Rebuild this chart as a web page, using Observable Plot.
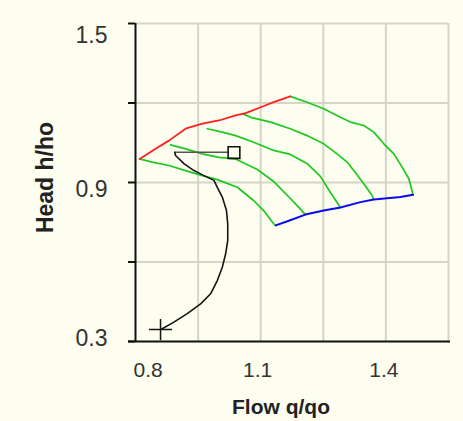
<!DOCTYPE html>
<html><head><meta charset="utf-8">
<script src="https://cdn.jsdelivr.net/npm/d3@7"></script>
<script src="https://cdn.jsdelivr.net/npm/@observablehq/plot@0.6"></script>
<style>html,body{margin:0;padding:0;background:#fdfdf0;}</style>
</head><body><div id="chart"></div>
<script>
// ---- data ----
const xGrid = [0.95, 1.1, 1.25, 1.4, 1.55];
const yGrid = [0.6, 0.9, 1.2, 1.5];
const yTicks = [0.3, 0.6, 0.9, 1.2, 1.5];
const xLabels = [0.8, 1.1, 1.4];
const yLabels = [0.3, 0.9, 1.5];
const xTitle = "Flow q/qo";
const yTitle = "Head h/ho";

const upperEnvelope = [[0.810,0.989],[0.848,1.027],[0.880,1.058],[0.920,1.103],[0.960,1.122],[1.000,1.134],[1.040,1.153],[1.064,1.162],[1.100,1.184],[1.131,1.203],[1.171,1.225]];
const lowerEnvelope = [[1.136,0.738],[1.164,0.754],[1.207,0.779],[1.251,0.794],[1.291,0.806],[1.339,0.826],[1.371,0.836],[1.435,0.845],[1.465,0.854]];
const speed1 = [[0.810,0.989],[0.840,0.977],[0.880,0.964],[0.920,0.945],[0.960,0.926],[0.996,0.911],[1.044,0.882],[1.083,0.832],[1.107,0.794],[1.131,0.744],[1.136,0.738]];
const speed2 = [[0.884,1.042],[0.920,1.027],[0.960,1.008],[1.000,0.995],[1.040,0.989],[1.092,0.949],[1.131,0.904],[1.164,0.851],[1.191,0.807],[1.207,0.779]];
const speed3 = [[0.972,1.103],[1.008,1.090],[1.040,1.077],[1.083,1.052],[1.131,1.021],[1.171,1.006],[1.211,0.972],[1.243,0.923],[1.267,0.862],[1.291,0.806]];
const speed4 = [[1.059,1.158],[1.076,1.146],[1.124,1.128],[1.171,1.103],[1.211,1.077],[1.251,1.046],[1.283,1.008],[1.307,0.977],[1.323,0.945],[1.347,0.895],[1.367,0.851],[1.371,0.836]];
const speed5 = [[1.171,1.225],[1.211,1.203],[1.251,1.178],[1.291,1.146],[1.315,1.128],[1.347,1.115],[1.371,1.090],[1.395,1.046],[1.419,1.008],[1.439,0.958],[1.455,0.914],[1.465,0.854]];
const trajectory = [[0.860,0.345],[0.864,0.348],[0.892,0.373],[0.924,0.405],[0.956,0.442],[0.980,0.480],[0.996,0.530],[1.008,0.580],[1.016,0.631],[1.021,0.681],[1.021,0.744],[1.018,0.794],[1.008,0.845],[0.996,0.882],[0.988,0.908],[0.964,0.926],[0.940,0.945],[0.916,0.971],[0.896,1.002],[0.894,1.014]];
const connector = [[0.894,1.014],[1.020,1.014]];
const startPoint = [[0.860,0.345]];
const endPoint = [[1.036,1.013]];

// ---- drawing ----
const speeds = [speed1, speed2, speed3, speed4, speed5].flatMap((s, k) => s.map(p => ({q: p[0], h: p[1], k})));
const thinPlus = {draw(ctx, size) { const r = Math.sqrt(size / Math.PI); ctx.moveTo(-r, 0); ctx.lineTo(r, 0); ctx.moveTo(0, -r * 0.92); ctx.lineTo(0, r * 0.92); }};
const yLabelDy = {"0.3": -3, "0.9": 7, "1.5": 12};
const xLabelDx = {"0.8": -2, "1.1": -3, "1.4": -2};
const font = "Liberation Sans, Arial, sans-serif";

const chart = Plot.plot({
  width: 463, height: 421,
  marginLeft: 135, marginRight: 15, marginTop: 23, marginBottom: 80,
  x: {domain: [0.8, 1.55], axis: null},
  y: {domain: [0.3, 1.5], axis: null},
  style: {background: "#fdfdf0", fontFamily: font},
  marks: [
    Plot.ruleX(xGrid, {stroke: "#d6d6c6", strokeWidth: 2}),
    Plot.ruleY(yGrid, {stroke: "#d6d6c6", strokeWidth: 2}),
    Plot.line(speeds, {x: "q", y: "h", z: "k", stroke: "#1ec81e", strokeWidth: 1.7}),
    Plot.line(upperEnvelope, {x: d => d[0], y: d => d[1], stroke: "#ff1f1f", strokeWidth: 1.8}),
    Plot.line(lowerEnvelope, {x: d => d[0], y: d => d[1], stroke: "#0a0aee", strokeWidth: 2}),
    Plot.line(connector, {x: d => d[0], y: d => d[1], stroke: "#555", strokeWidth: 1.5}),
    Plot.line(trajectory, {x: d => d[0], y: d => d[1], stroke: "#151515", strokeWidth: 1.6}),
    Plot.dot(startPoint, {x: d => d[0], y: d => d[1], symbol: thinPlus, r: 11.5, stroke: "#151515", fill: "none", strokeWidth: 1.5}),
    Plot.dot(endPoint, {x: d => d[0], y: d => d[1], symbol: "square", r: 6.6, stroke: "#111", fill: "none", strokeWidth: 1.6}),
    Plot.ruleX([0.8], {stroke: "#111", strokeWidth: 2}),
    Plot.ruleY([0.3], {stroke: "#111", strokeWidth: 2, insetLeft: -7, insetRight: -2}),
    Plot.ruleY(yTicks, {x1: d => 0.8, x2: d => 0.8, insetLeft: -7, stroke: "#111", strokeWidth: 2}),
    ...yLabels.map(v => Plot.text([v], {x: d => 0.8, y: d => d, text: d => d.toFixed(1), textAnchor: "end", dx: -28, dy: yLabelDy[v.toFixed(1)], fontSize: 23, fill: "#333"})),
    ...xLabels.map((v, i) => Plot.text([v], {x: d => d, y: d => 0.3, text: d => d.toFixed(1), textAnchor: i === 0 ? "start" : "middle", dx: xLabelDx[v.toFixed(1)], dy: 29, fontSize: 21, fill: "#333"})),
    Plot.text([yTitle], {frameAnchor: "left", textAnchor: "middle", lineAnchor: "middle", text: d => d, rotate: -90, dx: -90, dy: -5, fontSize: 23, fontWeight: "bold", fill: "#222"}),
    Plot.text([xTitle], {frameAnchor: "bottom", textAnchor: "middle", lineAnchor: "middle", text: d => d, dx: -11, dy: 66, fontSize: 21, fontWeight: "bold", fill: "#222"})
  ]
});
document.getElementById("chart").appendChild(chart);
</script>
</body></html>
